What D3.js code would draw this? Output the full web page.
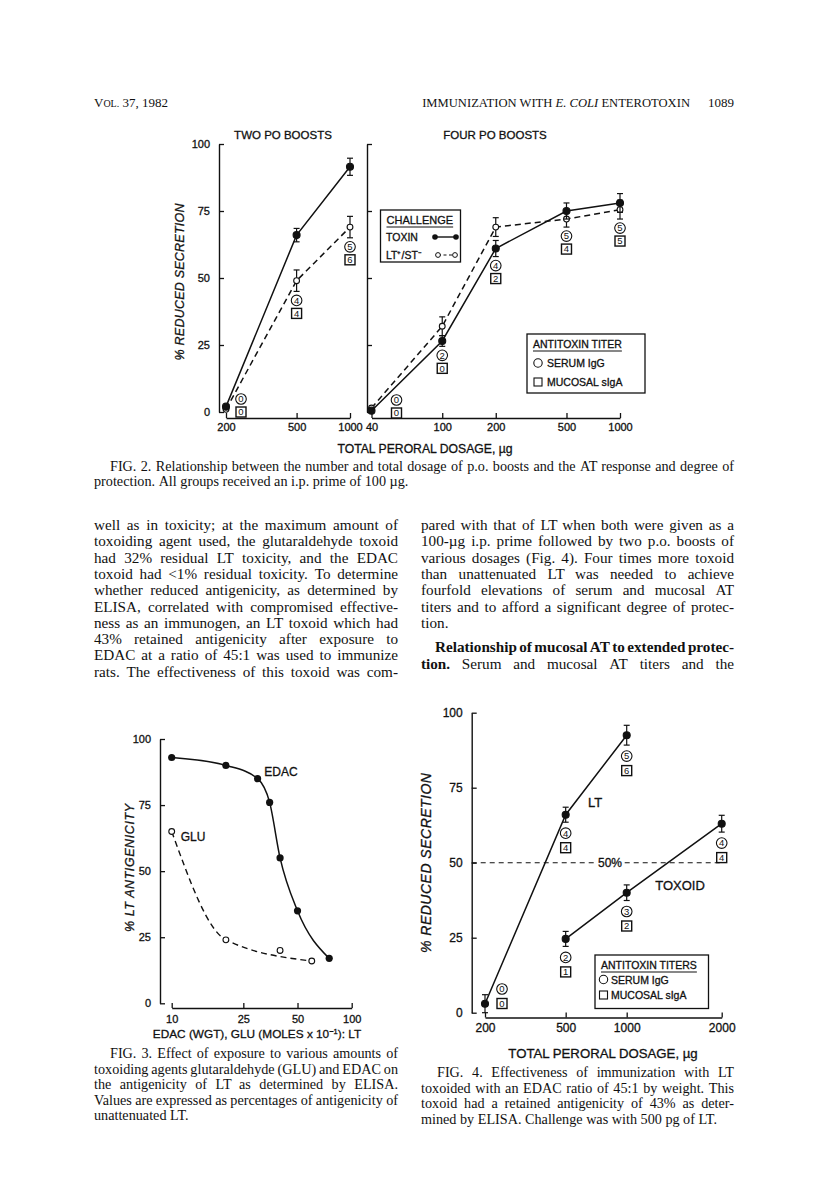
<!DOCTYPE html>
<html><head><meta charset="utf-8">
<script src="https://cdn.jsdelivr.net/npm/d3@7"></script>
<style>
html,body{margin:0;padding:0;background:#fff;}
svg{display:block;}
.lab{font-family:"Liberation Sans",Arial,sans-serif;fill:#111;stroke:#111;stroke-width:0.3px;}
.body{font-family:"Liberation Serif","Times New Roman",serif;fill:#111;}
</style></head>
<body>
<script>
// ---------------- DATA ----------------
// Fig. 2, two PO boosts
const twoDoses = [200, 500, 1000];
const twoToxin = [2, 66, 91.5];
const twoToxinErr = [0, 2.5, 3.2];
const twoLT = [1, 49, 69];
const twoLTErr = [0, 4, 4];
const twoSerum = [0, 4, 5];
const twoMucosal = [0, 4, 6];
// Fig. 2, four PO boosts
const fourDoses = [40, 100, 200, 500, 1000];
const fourToxin = [0.5, 26.5, 61, 75, 78];
const fourToxinErr = [0, 2, 3, 3, 3.5];
const fourLT = [1.5, 32, 69, 72, 75.5];
const fourLTErr = [0, 3.5, 3.5, 3, 3.5];
const fourSerum = [0, 2, 4, 5, 5];
const fourMucosal = [0, 0, 2, 4, 5];
const fig2YTicks = [0, 25, 50, 75, 100];

// Fig. 3
const edacDose = [10, 20, 30, 35, 40, 50, 75];
const edacAnti = [93, 90, 85, 76, 55, 35, 17];
const gluDose = [10, 20, 40, 60];
const gluAnti = [65, 24, 20, 16];
const gluOnCurve = [true, true, false, true];
const fig3XTicks = [10, 25, 50, 100];
const fig3YTicks = [0, 25, 50, 75, 100];

// Fig. 4
const ltDoses = [200, 500, 1000];
const ltVals = [3, 66, 92.5];
const ltErr = [3, 2.5, 3.3];
const ltSerum = [0, 4, 5];
const ltMucosal = [0, 4, 6];
const toxoidDoses = [500, 1000, 2000];
const toxoidVals = [24.6, 40, 63];
const toxoidErr = [2.5, 2.6, 2.8];
const toxoidSerum = [2, 3, 4];
const toxoidMucosal = [1, 2, 4];
const fig4XTicks = [200, 500, 1000, 2000];
const fig4YTicks = [0, 25, 50, 75, 100];
const protectionLevel = 50;

// Text
const headerLeft = "37, 1982";
const fig2Caption = [
  "FIG. 2. Relationship between the number and total dosage of p.o. boosts and the AT response and degree of",
  "protection. All groups received an i.p. prime of 100 µg."];
const leftCol = [
  "well as in toxicity; at the maximum amount of",
  "toxoiding agent used, the glutaraldehyde toxoid",
  "had 32% residual LT toxicity, and the EDAC",
  "toxoid had <1% residual toxicity. To determine",
  "whether reduced antigenicity, as determined by",
  "ELISA, correlated with compromised effective-",
  "ness as an immunogen, an LT toxoid which had",
  "43% retained antigenicity after exposure to",
  "EDAC at a ratio of 45:1 was used to immunize",
  "rats. The effectiveness of this toxoid was com-"];
const rightCol = [
  "pared with that of LT when both were given as a",
  "100-µg i.p. prime followed by two p.o. boosts of",
  "various dosages (Fig. 4). Four times more toxoid",
  "than unattenuated LT was needed to achieve",
  "fourfold elevations of serum and mucosal AT",
  "titers and to afford a significant degree of protec-",
  "tion."];
const rightHead = "Relationship of mucosal AT to extended protec-";
const rightLast = ["tion.", "Serum and mucosal AT titers and the"];
const fig3Caption = [
  "FIG. 3. Effect of exposure to various amounts of",
  "toxoiding agents glutaraldehyde (GLU) and EDAC on",
  "the antigenicity of LT as determined by ELISA.",
  "Values are expressed as percentages of antigenicity of",
  "unattenuated LT."];
const fig4Caption = [
  "FIG. 4. Effectiveness of immunization with LT",
  "toxoided with an EDAC ratio of 45:1 by weight. This",
  "toxoid had a retained antigenicity of 43% as deter-",
  "mined by ELISA. Challenge was with 500 pg of LT."];

// ---------------- DRAW ----------------
const svg = d3.select("body").append("svg").attr("width", 816).attr("height", 1189);
const INK = "#111";
const LABF = '"Liberation Sans",Arial,sans-serif';

const COL = {L0: 94, L1: 398, R0: 421, R1: 734};

function justify(g, words, x0, x1, y, size, just, styles) {
  const t = g.append("text").attr("class", "body").attr("y", y).attr("font-size", size);
  const spans = words.map((w, i) => {
    const s = t.append("tspan").text(w);
    if (styles && styles[i]) s.attr("font-weight", styles[i]);
    return s;
  });
  const widths = spans.map(s => s.node().getComputedTextLength());
  const spaceW = size * 0.25;
  const total = d3.sum(widths);
  let gap = (just && words.length > 1) ? (x1 - x0 - total) / (words.length - 1) : spaceW;
  let k = 1;
  if (gap < 1.5) { gap = 1.5; k = (x1 - x0 - gap * (words.length - 1)) / total; }
  let x = x0;
  spans.forEach((s, i) => {
    s.attr("x", x);
    if (k < 1) s.attr("textLength", widths[i] * k).attr("lengthAdjust", "spacingAndGlyphs");
    x += widths[i] * k + gap;
  });
}
function para(lines, x0, x1, y0, step, size, lastJust) {
  const g = svg.append("g");
  lines.forEach((l, i) => {
    const just = i < lines.length - 1 || lastJust;
    const ind = l.startsWith("FIG.") ? 16 : 0;
    justify(g, l.split(" "), x0 + ind, x1, y0 + i * step, size, just);
  });
}

// header
const hdr = svg.append("text").attr("class", "body").attr("x", COL.L0).attr("y", 107).attr("font-size", 13);
hdr.append("tspan").text("V");
hdr.append("tspan").attr("font-size", 10).text("OL.");
hdr.append("tspan").text(" " + headerLeft);
const hdr2 = svg.append("text").attr("class", "body").attr("y", 107).attr("font-size", 12.6);
hdr2.append("tspan").text("IMMUNIZATION WITH ");
hdr2.append("tspan").attr("font-style", "italic").text("E. COLI");
hdr2.append("tspan").text(" ENTEROTOXIN");
hdr2.attr("x", 690 - hdr2.node().getComputedTextLength());
svg.append("text").attr("class", "body").attr("x", COL.R1).attr("y", 107).attr("font-size", 13)
  .attr("text-anchor", "end").text("1089");

// helpers for chart marks
function yAxis(g, y, x, ticks, labels, size) {
  const ax = d3.axisLeft(y).tickValues(ticks).tickSize(-5).tickSizeOuter(0).tickPadding(9)
    .tickFormat(labels ? d3.format("d") : () => "");
  const a = g.append("g").attr("transform", `translate(${x},0)`).call(ax);
  a.select(".domain").attr("stroke", INK).attr("stroke-width", 1.4);
  a.selectAll(".tick line").attr("stroke", INK).attr("stroke-width", 1.3);
  a.selectAll("text").attr("font-family", LABF).attr("font-size", size).attr("fill", INK).attr("stroke", INK).attr("stroke-width", 0.3);
  return a;
}
function xAxis(g, x, yPos, ticks, size, pad) {
  const ax = d3.axisBottom(x).tickValues(ticks).tickSize(-5).tickSizeOuter(0).tickPadding(pad)
    .tickFormat(d3.format("d"));
  const a = g.append("g").attr("transform", `translate(0,${yPos})`).call(ax);
  a.select(".domain").attr("stroke", INK).attr("stroke-width", 1.4);
  a.selectAll(".tick line").attr("stroke", INK).attr("stroke-width", 1.3);
  a.selectAll("text").attr("font-family", LABF).attr("font-size", size).attr("fill", INK).attr("stroke", INK).attr("stroke-width", 0.3);
  return a;
}
function series(g, x, y, doses, vals, errs, filled, dashed, curve) {
  const line = d3.line().x((d, i) => x(doses[i])).y(d => y(d)).curve(curve || d3.curveLinear);
  g.append("path").datum(vals).attr("d", line).attr("fill", "none").attr("stroke", INK)
    .attr("stroke-width", 1.5).attr("stroke-dasharray", dashed ? "6,4" : null);
  if (errs) vals.forEach((v, i) => {
    const e = errs[i]; if (!e) return;
    const cx = x(doses[i]);
    g.append("line").attr("x1", cx).attr("x2", cx).attr("y1", y(v - e)).attr("y2", y(v + e)).attr("stroke", INK).attr("stroke-width", 1.2);
    [v - e, v + e].forEach(t => g.append("line").attr("x1", cx - 3).attr("x2", cx + 3).attr("y1", y(t)).attr("y2", y(t)).attr("stroke", INK).attr("stroke-width", 1.2));
  });
  vals.forEach((v, i) => {
    g.append("circle").attr("cx", x(doses[i])).attr("cy", y(v)).attr("r", filled ? 3.5 : 2.9)
      .attr("fill", filled ? INK : "#fff").attr("stroke", INK).attr("stroke-width", 1.1);
  });
}
function titerMarks(g, x, y, doses, lows, serum, mucosal, opt) {
  doses.forEach((d, i) => {
    let cy = y(lows[i]) + opt.gap;
    let cx = x(d);
    if (cy + opt.sq > opt.floor) { cy = opt.floor - opt.sq; cx += opt.shift; }
    g.append("circle").attr("cx", cx).attr("cy", cy).attr("r", 5.3).attr("fill", "#fff").attr("stroke", INK).attr("stroke-width", 1.1);
    g.append("text").attr("x", cx).attr("y", cy + 3.3).attr("text-anchor", "middle").attr("font-family", LABF)
      .attr("font-size", 9.5).attr("fill", INK).text(serum[i]);
    const sy = cy + opt.sq;
    g.append("rect").attr("x", cx - 5).attr("y", sy - 5).attr("width", 10).attr("height", 10).attr("fill", "#fff").attr("stroke", INK).attr("stroke-width", 1.4);
    g.append("text").attr("x", cx).attr("y", sy + 3.3).attr("text-anchor", "middle").attr("font-family", LABF)
      .attr("font-size", 9.5).attr("fill", INK).text(mucosal[i]);
  });
}
function lowOf(a, ea, b, eb) { return a.map((v, i) => Math.min(v - (ea[i] || 0), b ? b[i] - (eb[i] || 0) : Infinity)); }
function labText(g, x, y, t, size, anchor) {
  return g.append("text").attr("class", "lab").attr("x", x).attr("y", y).attr("font-size", size)
    .attr("text-anchor", anchor || "middle").text(t);
}
function legendBox(g, x0, y0, w, h, title, rows, size) {
  g.append("rect").attr("x", x0).attr("y", y0).attr("width", w).attr("height", h).attr("fill", "#fff").attr("stroke", INK).attr("stroke-width", 1.3);
  const tt = labText(g, x0 + 6, y0 + 14, title, size, "start");
  const tw = tt.node().getComputedTextLength();
  g.append("line").attr("x1", x0 + 6).attr("x2", x0 + 6 + tw).attr("y1", y0 + 17).attr("y2", y0 + 17).attr("stroke", INK).attr("stroke-width", 1.1);
  rows.forEach(r => r(g));
}

// ---------- FIG 2 ----------
const f2 = svg.append("g");
const y2 = d3.scaleLinear().domain([0, 100]).range([412, 144]);
const xTwo = d3.scaleLog().domain([200, 1000]).range([226, 350]);
const xFour = d3.scaleLog().domain([40, 1000]).range([371.5, 620]);
yAxis(f2, y2, 219, fig2YTicks, true, 11);
yAxis(f2, y2, 367, fig2YTicks, false, 11);
xAxis(f2, xTwo, 418, twoDoses, 11, 5);
xAxis(f2, xFour, 418, fourDoses, 11, 5);
series(f2, xTwo, y2, twoDoses, twoLT, twoLTErr, false, true);
series(f2, xTwo, y2, twoDoses, twoToxin, twoToxinErr, true, false);
series(f2, xFour, y2, fourDoses, fourLT, fourLTErr, false, true);
series(f2, xFour, y2, fourDoses, fourToxin, fourToxinErr, true, false);
titerMarks(f2, xTwo, y2, twoDoses, lowOf(twoToxin, twoToxinErr, twoLT, twoLTErr), twoSerum, twoMucosal, {gap: 9, sq: 13, floor: 412, shift: 15});
titerMarks(f2, xFour, y2, fourDoses, lowOf(fourToxin, fourToxinErr, fourLT, fourLTErr), fourSerum, fourMucosal, {gap: 9, sq: 13, floor: 413, shift: 25});
labText(f2, 283, 139, "TWO PO BOOSTS", 11.5);
labText(f2, 495, 139, "FOUR PO BOOSTS", 11.5);
labText(f2, 425, 452.5, "TOTAL PERORAL DOSAGE, µg", 12.2);
f2.append("text").attr("class", "lab").attr("transform", "translate(184,282) rotate(-90)")
  .attr("font-size", 12.5).attr("font-style", "italic").attr("text-anchor", "middle")
  .attr("textLength", 157).attr("lengthAdjust", "spacing").text("% REDUCED SECRETION");
legendBox(f2, 380.5, 210, 80, 52, "CHALLENGE", [
  g => {
    labText(g, 386, 241, "TOXIN", 10.5, "start");
    g.append("line").attr("x1", 435).attr("x2", 456).attr("y1", 237).attr("y2", 237).attr("stroke", INK).attr("stroke-width", 1.4);
    [435, 456].forEach(cx => g.append("circle").attr("cx", cx).attr("cy", 237).attr("r", 2.8).attr("fill", INK));
  },
  g => {
    labText(g, 386, 259, "LT⁺/ST⁻", 10.5, "start");
    g.append("line").attr("x1", 438).attr("x2", 455).attr("y1", 255).attr("y2", 255).attr("stroke", INK).attr("stroke-width", 1.2).attr("stroke-dasharray", "3,2.5");
    [438, 455].forEach(cx => g.append("circle").attr("cx", cx).attr("cy", 255).attr("r", 2.4).attr("fill", "#fff").attr("stroke", INK).attr("stroke-width", 1));
  }], 11);
legendBox(f2, 527, 334, 118, 59, "ANTITOXIN TITER", [
  g => {
    g.append("circle").attr("cx", 538).attr("cy", 363).attr("r", 4.2).attr("fill", "none").attr("stroke", INK).attr("stroke-width", 1.1);
    labText(g, 547, 367, "SERUM IgG", 10.5, "start");
  },
  g => {
    g.append("rect").attr("x", 534).attr("y", 378).attr("width", 8).attr("height", 8).attr("fill", "none").attr("stroke", INK).attr("stroke-width", 1.1);
    labText(g, 547, 386, "MUCOSAL sIgA", 10.5, "start");
  }], 10.5);

// captions & body
const BODY = 15.2, STEP = 16.3, Y0 = 530;
const CAP = 14.2, CSTEP = 15.5;
para(fig2Caption, COL.L0, COL.R1, 471, 15, CAP, false);
para(leftCol, COL.L0, COL.L1, Y0, STEP, BODY, true);
para(rightCol, COL.R0, COL.R1, Y0, STEP, BODY, false);
justify(svg.append("g"), rightHead.split(" "), COL.R0 + 14, COL.R1, Y0 + 7.5 * STEP, BODY, true, rightHead.split(" ").map(() => "bold"));
justify(svg.append("g"), (rightLast[0] + " " + rightLast[1]).split(" "), COL.R0, COL.R1, Y0 + 8.5 * STEP, BODY, true, ["bold"]);

// ---------- FIG 3 ----------
const f3 = svg.append("g");
const y3 = d3.scaleLinear().domain([0, 100]).range([1003.3, 739]);
const x3 = d3.scaleLog().domain([10, 100]).range([171.7, 351.7]);
yAxis(f3, y3, 160, fig3YTicks, true, 11);
xAxis(f3, x3, 1008, fig3XTicks, 11, 7);
{
  const lineE = d3.line().x((d, i) => x3(edacDose[i])).y(d => y3(d)).curve(d3.curveMonotoneX);
  f3.append("path").datum(edacAnti).attr("d", lineE).attr("fill", "none").attr("stroke", INK).attr("stroke-width", 1.5);
  const gi = gluDose.map((d, i) => i).filter(i => gluOnCurve[i]);
  const lineG = d3.line().x(i => x3(gluDose[i])).y(i => y3(gluAnti[i])).curve(d3.curveMonotoneX);
  f3.append("path").datum(gi).attr("d", lineG).attr("fill", "none").attr("stroke", INK).attr("stroke-width", 1.4).attr("stroke-dasharray", "6,4");
  edacAnti.forEach((v, i) => f3.append("circle").attr("cx", x3(edacDose[i])).attr("cy", y3(v)).attr("r", 3.6).attr("fill", INK));
  gluAnti.forEach((v, i) => f3.append("circle").attr("cx", x3(gluDose[i])).attr("cy", y3(v)).attr("r", 2.9).attr("fill", "#fff").attr("stroke", INK).attr("stroke-width", 1.1));
}
labText(f3, 281, 776, "EDAC", 12);
labText(f3, 193, 841, "GLU", 12);
f3.append("text").attr("class", "lab").attr("transform", "translate(134,868) rotate(-90)")
  .attr("font-size", 12.5).attr("font-style", "italic").attr("text-anchor", "middle")
  .attr("textLength", 128).attr("lengthAdjust", "spacing").text("% LT ANTIGENICITY");
{
  const t = f3.append("text").attr("class", "lab").attr("x", 257).attr("y", 1038).attr("font-size", 11.8).attr("text-anchor", "middle");
  t.append("tspan").text("EDAC (WGT), GLU (MOLES x 10");
  t.append("tspan").attr("font-size", 7.5).attr("dy", -4).text("−1");
  t.append("tspan").attr("dy", 4).text("): LT");
}
para(fig3Caption, COL.L0, COL.L1, 1058, CSTEP, CAP, false);

// ---------- FIG 4 ----------
const f4 = svg.append("g");
const y4 = d3.scaleLinear().domain([0, 100]).range([1012.7, 712.7]);
const x4 = d3.scaleLog().domain([200, 1000, 2000]).range([485, 626.7, 721.7]);
yAxis(f4, y4, 471.7, fig4YTicks, true, 12);
xAxis(f4, x4, 1017.5, fig4XTicks, 12, 6);
f4.append("line").attr("x1", 471.7).attr("x2", x4(2000)).attr("y1", y4(protectionLevel)).attr("y2", y4(protectionLevel))
  .attr("stroke", INK).attr("stroke-width", 1.1).attr("stroke-dasharray", "5,4");
series(f4, x4, y4, ltDoses, ltVals, ltErr, true, false);
series(f4, x4, y4, toxoidDoses, toxoidVals, toxoidErr, true, false);
titerMarks(f4, x4, y4, ltDoses, lowOf(ltVals, ltErr), ltSerum, ltMucosal, {gap: 11, sq: 14.5, floor: 1003.5, shift: 17});
titerMarks(f4, x4, y4, toxoidDoses, lowOf(toxoidVals, toxoidErr), toxoidSerum, toxoidMucosal, {gap: 11, sq: 14.5, floor: 1003.5, shift: 17});
{
  const pl = labText(f4, 610, y4(protectionLevel) + 4.5, protectionLevel + "%", 12);
  const bb = pl.node().getBBox();
  f4.insert("rect", () => pl.node()).attr("x", bb.x - 1).attr("y", bb.y + 2).attr("width", bb.width + 2).attr("height", bb.height - 4).attr("fill", "#fff");
}
labText(f4, 595, 806.5, "LT", 13);
labText(f4, 680, 889.5, "TOXOID", 13);
legendBox(f4, 595, 955, 113.5, 53.5, "ANTITOXIN TITERS", [
  g => {
    g.append("circle").attr("cx", 603.5).attr("cy", 979.5).attr("r", 4.2).attr("fill", "none").attr("stroke", INK).attr("stroke-width", 1.1);
    labText(g, 611, 983.5, "SERUM IgG", 10.5, "start");
  },
  g => {
    g.append("rect").attr("x", 599.5).attr("y", 991).attr("width", 8).attr("height", 8).attr("fill", "none").attr("stroke", INK).attr("stroke-width", 1.1);
    labText(g, 611, 999, "MUCOSAL sIgA", 10.5, "start");
  }], 10.5);
f4.append("text").attr("class", "lab").attr("transform", "translate(431,863) rotate(-90)")
  .attr("font-size", 14).attr("font-style", "italic").attr("text-anchor", "middle")
  .attr("textLength", 180).attr("lengthAdjust", "spacing").text("% REDUCED SECRETION");
labText(f4, 603, 1058, "TOTAL PERORAL DOSAGE, µg", 13.2);
para(fig4Caption, COL.R0, COL.R1, 1077, CSTEP, CAP, false);
</script>
</body></html>
